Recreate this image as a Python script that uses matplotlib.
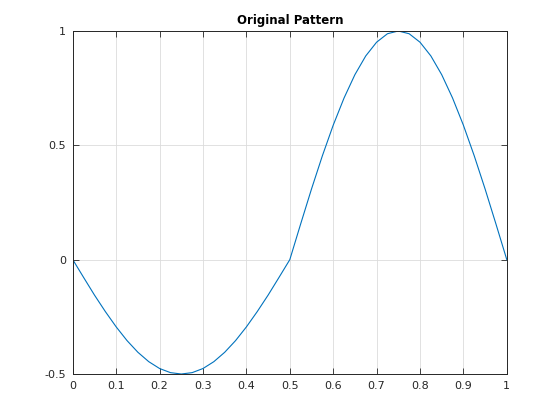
import matplotlib
matplotlib.use("Agg")
import matplotlib.pyplot as plt

# values
x_vals = [0.0, 0.025, 0.05, 0.075, 0.1, 0.125, 0.15, 0.175, 0.2, 0.225, 0.25,
          0.275, 0.3, 0.325, 0.35, 0.375, 0.4, 0.425, 0.45, 0.475, 0.5,
          0.525, 0.55, 0.575, 0.6, 0.625, 0.65, 0.675, 0.7, 0.725, 0.75,
          0.775, 0.8, 0.825, 0.85, 0.875, 0.9, 0.925, 0.95, 0.975, 1.0]
y_vals = [0.0, -0.078, -0.155, -0.227, -0.294, -0.354, -0.405, -0.446, -0.476, -0.494, -0.5,
          -0.494, -0.476, -0.446, -0.405, -0.354, -0.294, -0.227, -0.155, -0.078, 0.0,
          0.156, 0.309, 0.454, 0.588, 0.707, 0.809, 0.891, 0.951, 0.988, 1.0,
          0.988, 0.951, 0.891, 0.809, 0.707, 0.588, 0.454, 0.309, 0.156, 0.0]
x_ticks = [0, 0.1, 0.2, 0.3, 0.4, 0.5, 0.6, 0.7, 0.8, 0.9, 1]
x_labels = ["0", "0.1", "0.2", "0.3", "0.4", "0.5", "0.6", "0.7", "0.8", "0.9", "1"]
y_ticks = [-0.5, 0, 0.5, 1]
y_labels = ["-0.5", "0", "0.5", "1"]

fig = plt.figure(figsize=(5.6, 4.2), dpi=100)
ax = fig.add_axes([0.130, 0.1095, 0.775, 0.8167])

ax.plot(x_vals, y_vals, color="#0072BD", linewidth=0.8)

ax.set_xlim(0, 1)
ax.set_ylim(-0.5, 1)
ax.set_xticks(x_ticks)
ax.set_xticklabels(x_labels)
ax.set_yticks(y_ticks)
ax.set_yticklabels(y_labels)

ax.grid(True, color="#dcdcdc", linewidth=0.6)
ax.set_axisbelow(True)
ax.tick_params(direction="in", length=4, width=0.6, labelsize=8,
               colors="#262626", top=True, right=True, pad=5)
for s in ax.spines.values():
    s.set_color("#262626")
    s.set_linewidth(0.7)

ax.set_title("Original Pattern", fontsize=8.5, fontweight="bold", color="black", pad=5)

fig.savefig("out.png", dpi=100)
